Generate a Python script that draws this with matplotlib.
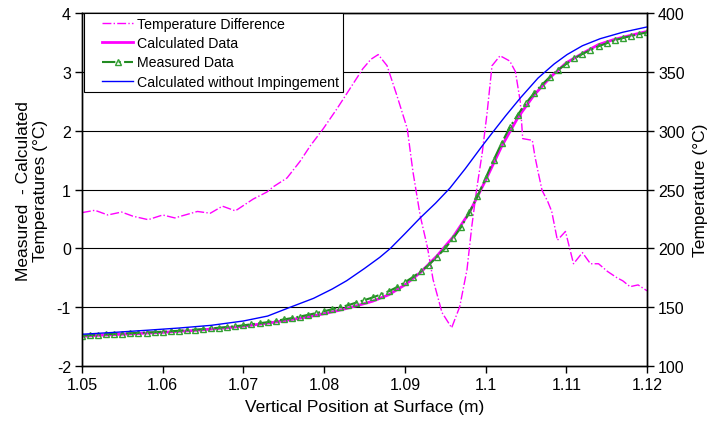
"""Temperature profile along the surface: measured vs calculated data,
plus the difference between them on a second axis."""
import matplotlib
matplotlib.use("Agg")
import matplotlib.pyplot as plt
from matplotlib.lines import Line2D
from matplotlib.legend_handler import HandlerLine2D

plt.rcParams["font.family"] = ["Liberation Sans", "DejaVu Sans"]
plt.rcParams["axes.unicode_minus"] = False

# difference between measured and calculated temperatures (left axis)
diff_x = [1.0500, 1.0516, 1.0532, 1.0549, 1.0563, 1.0582, 1.0600, 1.0615,
          1.0643, 1.0659, 1.0674, 1.0690, 1.0712, 1.0729, 1.0737, 1.0754,
          1.0770, 1.0783, 1.0799, 1.0816, 1.0832, 1.0848, 1.0858, 1.0867,
          1.0878, 1.0890, 1.0903, 1.0910, 1.0919, 1.0928, 1.0935, 1.0946,
          1.0958, 1.0968, 1.0977, 1.0983, 1.0989, 1.0996, 1.1002, 1.1008,
          1.1018, 1.1030, 1.1037, 1.1043, 1.1046, 1.1058, 1.1061, 1.1065,
          1.1070, 1.1077, 1.1082, 1.1089, 1.1099, 1.1109, 1.1120, 1.1130,
          1.1140, 1.1151, 1.1163, 1.1170, 1.1179, 1.1189, 1.1200]
diff_y = [0.61, 0.65, 0.57, 0.62, 0.55, 0.49, 0.57, 0.52,
          0.63, 0.60, 0.72, 0.64, 0.84, 0.96, 1.05, 1.20,
          1.48, 1.75, 2.04, 2.38, 2.72, 3.06, 3.22, 3.30,
          3.11, 2.61, 2.04, 1.31, 0.56, 0.02, -0.53, -1.09,
          -1.35, -0.99, -0.36, 0.38, 1.01, 1.64, 2.32, 3.11,
          3.28, 3.19, 3.01, 2.50, 1.87, 1.84, 1.58, 1.31,
          0.99, 0.80, 0.63, 0.14, 0.29, -0.26, -0.07, -0.26,
          -0.26, -0.39, -0.50, -0.55, -0.65, -0.62, -0.72]

# calculated temperatures (right axis)
calc_x = [1.050, 1.052, 1.054, 1.056, 1.058, 1.060, 1.062, 1.064, 1.066,
          1.068, 1.070, 1.072, 1.074, 1.076, 1.078, 1.080, 1.082, 1.084,
          1.086, 1.088, 1.090, 1.092, 1.094, 1.096, 1.098, 1.100, 1.102,
          1.104, 1.106, 1.108, 1.110, 1.112, 1.114, 1.116, 1.118, 1.120]
calc_t = [125.2, 126.1, 126.7, 127.3, 128.0, 128.6, 129.5, 130.3, 131.4,
          132.5, 133.9, 135.6, 137.4, 139.6, 141.8, 144.5, 147.6, 151.2,
          155.1, 160.6, 169.0, 180.0, 193.8, 210.0, 230.6, 258.0, 287.0,
          311.3, 330.5, 345.5, 358.0, 366.0, 373.5, 378.0, 381.4, 384.7]

# measured temperatures, one reading every millimetre
meas_x = [round(1.050 + 0.001 * i, 3) for i in range(71)]
meas_t = [125.8, 126.3, 126.7, 127.0, 127.3, 127.6, 127.9, 128.2, 128.5, 128.8,
          129.2, 129.6, 130.0, 130.5, 130.9, 131.4, 132.0, 132.6, 133.2, 133.9,
          134.6, 135.5, 136.4, 137.3, 138.4, 139.6, 140.8, 142.1, 143.5, 145.0,
          146.6, 148.3, 150.0, 151.8, 154.0, 156.1, 158.3, 160.8, 163.6, 167.0,
          171.2, 175.7, 180.6, 186.2, 193.0, 200.2, 208.7, 218.5, 230.8, 244.4,
          259.7, 275.3, 289.8, 303.1, 313.9, 323.6, 332.1, 339.4, 346.2, 352.1,
          357.0, 361.8, 365.5, 368.9, 372.1, 374.6, 377.2, 379.1, 380.8, 382.3,
          384.0]

# calculated without impingement (right axis)
noimp_x = [1.0500, 1.0540, 1.0580, 1.0620, 1.0660, 1.0700, 1.0730, 1.0758,
           1.0787, 1.0810, 1.0828, 1.0850, 1.0869, 1.0882, 1.0900, 1.0919,
           1.0938, 1.0956, 1.0975, 1.0995, 1.1009, 1.1025, 1.1043, 1.1065,
           1.1085, 1.1101, 1.1120, 1.1142, 1.1170, 1.1200]
noimp_t = [127.0, 128.6, 130.4, 132.3, 134.6, 138.3, 142.5, 150.0,
           157.6, 165.5, 172.6, 183.0, 192.5, 200.0, 212.5, 226.0,
           238.5, 251.5, 268.0, 286.5, 299.0, 313.0, 328.0, 345.0,
           357.0, 365.0, 372.5, 378.5, 384.0, 388.5]

x_ticks = [1.05, 1.06, 1.07, 1.08, 1.09, 1.10, 1.11, 1.12]
x_tick_labels = ["1.05", "1.06", "1.07", "1.08", "1.09", "1.1", "1.11", "1.12"]
left_ticks = [-2, -1, 0, 1, 2, 3, 4]
right_ticks = [100, 150, 200, 250, 300, 350, 400]


def graph_builder() -> None:
    """Draws both axes and saves the figure as out.png."""
    fig = plt.figure(figsize=(7.13, 4.31), dpi=100)
    ax = fig.add_axes([0.115, 0.1485, 0.7924, 0.818])
    ax2 = ax.twinx()

    for y in left_ticks[1:-1]:
        ax.axhline(y, color="black", lw=0.8, zorder=0)

    l1, = ax.plot(diff_x, diff_y, color="#ff00ff", lw=1, ls="-.",
                  label="Temperature Difference")
    l2, = ax2.plot(calc_x, calc_t, color="#ff00ff", lw=2,
                   label="Calculated Data")
    l3, = ax2.plot(meas_x, meas_t, color="#228b22", lw=1.5, ls="-.",
                   marker="^", ms=5, mfc="none", mec="#33a033", mew=1,
                   label="Measured Data")
    l4, = ax2.plot(noimp_x, noimp_t, color="#0000ff", lw=1,
                   label="Calculated without Impingement")

    ax.set_xlim(1.05, 1.12)
    ax.set_ylim(-2, 4)
    ax2.set_ylim(100, 400)
    ax.set_xticks(x_ticks)
    ax.set_xticklabels(x_tick_labels)
    ax.set_yticks(left_ticks)
    ax2.set_yticks(right_ticks)

    for a in (ax, ax2):
        a.tick_params(direction="out", length=5, width=1, labelsize=11.5,
                      color="black", pad=3)
        for s in a.spines.values():
            s.set_linewidth(1)
            s.set_color("black")

    ax.set_xlabel("Vertical Position at Surface (m)", fontsize=12.5,
                  labelpad=5)
    ax.set_ylabel("Measured  - Calculated\nTemperatures (\u00b0C)",
                  fontsize=12.5, labelpad=6)
    ax2.set_ylabel("Temperature (\u00b0C)", fontsize=12.5, labelpad=6)

    leg = ax2.legend(handles=[l1, l2, l3, l4], loc="upper left",
                     bbox_to_anchor=(0.004, 1.0), fontsize=10.2,
                     frameon=True, fancybox=False, edgecolor="black",
                     framealpha=1, handlelength=3.2, borderpad=0.25,
                     labelspacing=0.37, handletextpad=0.3, borderaxespad=0,
                     handler_map={Line2D: HandlerLine2D(xpad=1.0)})
    leg.get_frame().set_linewidth(0.8)

    fig.savefig("out.png", dpi=100)


if __name__ == "__main__":
    graph_builder()
